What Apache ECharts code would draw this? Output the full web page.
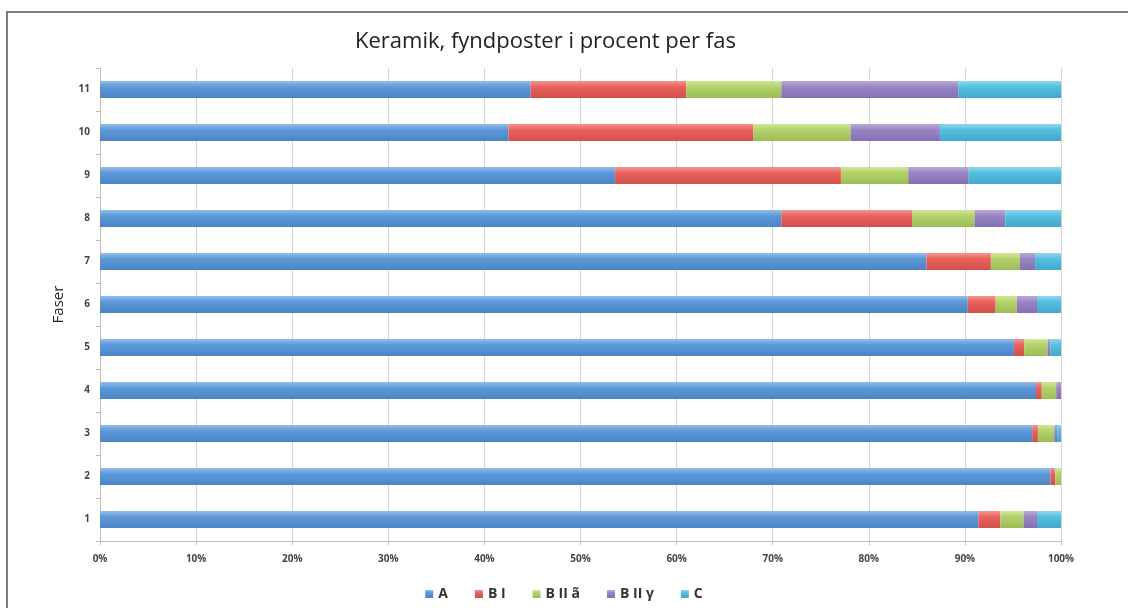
<!DOCTYPE html>
<html>
<head>
<meta charset="utf-8">
<script src="https://cdn.jsdelivr.net/npm/echarts@6/dist/echarts.min.js"></script>
<style>
  html, body { margin: 0; padding: 0; background: #ffffff; }
  #chart { width: 1128px; height: 608px; }
</style>
</head>
<body>
<div id="chart"></div>
<script>
// Phases (bottom to top) and share of find records per pottery group, in percent
const phases = ['1', '2', '3', '4', '5', '6', '7', '8', '9', '10', '11'];
const seriesNames = ['A', 'B I', 'B II ã', 'B II γ', 'C'];
const valuesA    = [91.4, 98.9, 97.0, 97.4, 95.1, 90.3, 86.0, 70.9, 53.6, 42.5, 44.8];
const valuesBI   = [2.3, 0.5, 0.6, 0.6, 1.1, 2.9, 6.7, 13.6, 23.5, 25.5, 16.2];
const valuesBIIa = [2.4, 0.6, 1.7, 1.5, 2.4, 2.2, 3.0, 6.5, 7.0, 10.1, 9.9];
const valuesBIIy = [1.4, 0.0, 0.3, 0.5, 0.3, 2.1, 1.6, 3.2, 6.3, 9.3, 18.4];
const valuesC    = [2.5, 0.0, 0.4, 0.0, 1.1, 2.5, 2.7, 5.8, 9.6, 12.6, 10.7];
const xTicks = { min: 0, max: 100, step: 10 };

const allValues = [valuesA, valuesBI, valuesBIIa, valuesBIIy, valuesC];
// light top edge, base colour, darker bottom edge
const palette = [
  ['#92bdea', '#5c98d8', '#4a84c4'],
  ['#f59490', '#e8625d', '#d24f4a'],
  ['#d2e79a', '#b3d26a', '#9cbc55'],
  ['#b9a9d9', '#9a85c4', '#8470b0'],
  ['#8ed8ee', '#55bfe0', '#41a9cb']
];

function shade(c) {
  return new echarts.graphic.LinearGradient(0, 0, 0, 1, [
    { offset: 0, color: c[0] },
    { offset: 0.35, color: c[1] },
    { offset: 1, color: c[2] }
  ]);
}

const chart = echarts.init(document.getElementById('chart'), null, { renderer: 'canvas' });
const font = "'Open Sans', 'DejaVu Sans', sans-serif";

chart.setOption({
  animation: false,
  backgroundColor: '#ffffff',
  color: palette.map(p => p[1]),
  title: {
    text: 'Keramik, fyndposter i procent per fas',
    left: 350,
    top: 26,
    textStyle: { fontFamily: font, fontSize: 22, fontWeight: 'normal', color: '#222222' }
  },
  legend: {
    data: seriesNames,
    left: 'center',
    top: 582,
    icon: 'rect',
    itemWidth: 8,
    itemHeight: 8,
    itemGap: 27,
    textStyle: { fontFamily: font, fontSize: 14, fontWeight: 'bold', color: '#333333' }
  },
  grid: { left: 100, right: 67, top: 68, bottom: 67 },
  xAxis: {
    type: 'value',
    min: xTicks.min,
    max: xTicks.max,
    interval: xTicks.step,
    axisLabel: {
      formatter: '{value}%',
      fontFamily: font, fontSize: 10, fontWeight: 'bold', color: '#444444', margin: 13
    },
    axisLine: { show: true, lineStyle: { color: '#bdbdbd', width: 1 } },
    axisTick: { show: true, length: 4, lineStyle: { color: '#bdbdbd' } },
    splitLine: { show: true, lineStyle: { color: '#d4d4d4', width: 1 } }
  },
  yAxis: {
    type: 'category',
    data: phases,
    name: 'Faser',
    nameLocation: 'middle',
    nameGap: 34,
    nameTextStyle: { fontFamily: font, fontSize: 15, color: '#222222' },
    axisLabel: { fontFamily: font, fontSize: 10, fontWeight: 'bold', color: '#444444', margin: 10 },
    axisLine: { show: true, lineStyle: { color: '#c9b8ae', width: 1 } },
    axisTick: { show: true, length: 4, lineStyle: { color: '#bdbdbd' } },
    splitLine: { show: false }
  },
  graphic: [{
    type: 'rect',
    shape: { x: 7, y: 12, width: 1300, height: 800 },
    style: { fill: 'none', stroke: '#7a7a7a', lineWidth: 2 },
    silent: true
  }],
  series: seriesNames.map((name, i) => ({
    name: name,
    type: 'bar',
    stack: 'share',
    barWidth: 17,
    data: allValues[i],
    itemStyle: { color: shade(palette[i]) }
  }))
});
</script>
</body>
</html>
